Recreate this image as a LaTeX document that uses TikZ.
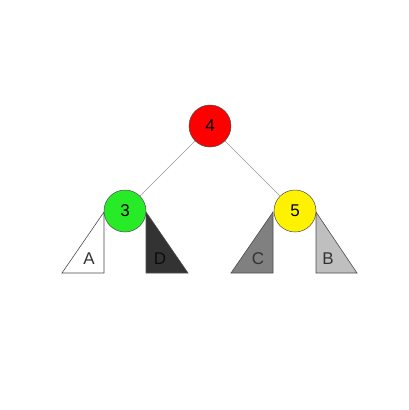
\documentclass[tikz,border=0pt]{standalone}
\usepackage{fontspec}
\setmainfont{Liberation Sans}
\begin{document}
\begin{tikzpicture}[x=1pt,y=-1pt,
  tnode/.style={circle,draw=black!70,line width=0.5pt,minimum size=42pt,inner sep=0pt,font=\fontsize{17}{17}\selectfont},
  edge/.style={draw=black!40,line width=0.7pt},
  sub/.style={draw=black!70,line width=0.6pt},
  lbl/.style={font=\fontsize{17}{17}\selectfont,text=black!80}]
\useasboundingbox (0,0) rectangle (408,410);
\fill[white] (0,0) rectangle (408,410);
% coordinates of subtree triangles
\coordinate (a1) at (62,273); \coordinate (a2) at (104,273); \coordinate (a3) at (104,212);
\coordinate (d1) at (146,212); \coordinate (d2) at (146,273); \coordinate (d3) at (188,273);
\coordinate (c1) at (231,273); \coordinate (c2) at (273,273); \coordinate (c3) at (273,212);
\coordinate (b1) at (316,212); \coordinate (b2) at (316,273); \coordinate (b3) at (357,273);
\filldraw[sub,fill=white] (a1) -- (a2) -- (a3) -- cycle;
\filldraw[sub,fill=black!80] (d1) -- (d2) -- (d3) -- cycle;
\filldraw[sub,fill=black!50] (c1) -- (c2) -- (c3) -- cycle;
\filldraw[sub,fill=black!25] (b1) -- (b2) -- (b3) -- cycle;
\node[lbl] (la) at (89,259) {A};
\node[lbl,text=black!95] (ld) at (160,259) {D};
\node[lbl] (lc) at (258,259) {C};
\node[lbl] (lb) at (328,259) {B};
% nodes
\node[tnode,fill=red] (n4) at (210,126) {4};
\node[tnode,fill={rgb,255:red,40;green,235;blue,40}] (n3) at (125,211) {3};
\node[tnode,fill=yellow] (n5) at (295,211) {5};
\draw[edge] (n4) -- (n3);
\draw[edge] (n4) -- (n5);
\end{tikzpicture}
\end{document}
